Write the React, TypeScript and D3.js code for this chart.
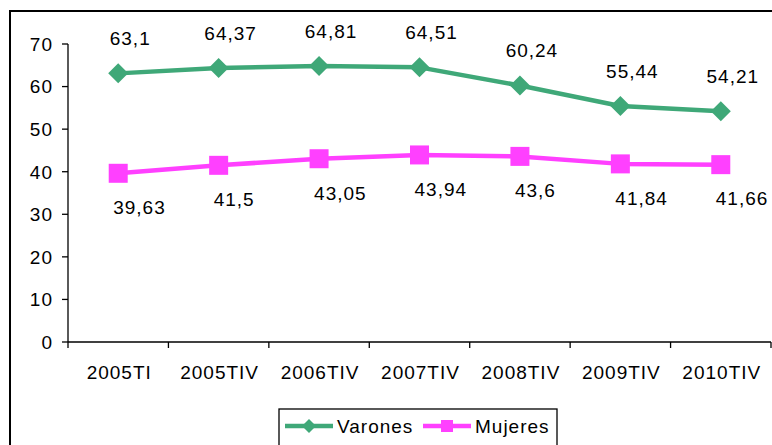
import React from "react";
import * as d3 from "d3";

const categories = ["2005TI", "2005TIV", "2006TIV", "2007TIV", "2008TIV", "2009TIV", "2010TIV"];
const varones = [63.1, 64.37, 64.81, 64.51, 60.24, 55.44, 54.21];
const mujeres = [39.63, 41.5, 43.05, 43.94, 43.6, 41.84, 41.66];
const varonesLabels = ["63,1", "64,37", "64,81", "64,51", "60,24", "55,44", "54,21"];
const mujeresLabels = ["39,63", "41,5", "43,05", "43,94", "43,6", "41,84", "41,66"];
const yTicks = [0, 10, 20, 30, 40, 50, 60, 70];

const W = 772;
const H = 445;
const GREEN = "#3fa878";
const MAGENTA = "#ff40ff";
const FONT = "'Liberation Sans', Arial, sans-serif";

export default function App() {
  const x = d3.scaleBand<string>().domain(categories).range([68, 771]).padding(0);
  const y = d3.scaleLinear().domain([0, 70]).range([342, 44]);
  const cx = (c: string) => (x(c) as number) + x.bandwidth() / 2;

  const line = d3
    .line<number>()
    .x((_, i) => cx(categories[i]))
    .y((d) => y(d));

  const diamond = (px: number, py: number, r: number) =>
    `M${px},${py - r}L${px + r},${py}L${px},${py + r}L${px - r},${py}Z`;

  const boundaries = categories.map((c) => x(c) as number).concat([x.range()[1]]);

  return (
    <svg
      width={W}
      height={H}
      style={{ position: "absolute", left: 0, top: 0, background: "#fff" }}
      fontFamily={FONT}
    >
      <rect x={0} y={0} width={W} height={H} fill="#fff" />
      {/* outer frame */}
      <rect x={10} y={11} width={W + 20} height={H + 20} fill="none" stroke="#000" strokeWidth={2} />

      {/* y axis */}
      <line x1={68} x2={68} y1={y(70)} y2={y(0)} stroke="#000" strokeWidth={1.3} />
      {yTicks.map((t) => (
        <g key={t}>
          <line x1={62} x2={68} y1={y(t)} y2={y(t)} stroke="#000" strokeWidth={1.3} />
          <text
            x={53}
            y={y(t)}
            dy="0.36em"
            textAnchor="end"
            fontSize={19}
            letterSpacing={1}
            fill="#000"
          >
            {t}
          </text>
        </g>
      ))}

      {/* x axis */}
      <line x1={68} x2={771} y1={y(0)} y2={y(0)} stroke="#000" strokeWidth={1.3} />
      {boundaries.map((b, i) => (
        <line key={i} x1={b} x2={b} y1={y(0)} y2={y(0) + 6} stroke="#000" strokeWidth={1.3} />
      ))}
      {categories.map((c) => (
        <text
          key={c}
          x={cx(c) + 1}
          y={379}
          textAnchor="middle"
          fontSize={19}
          letterSpacing={1}
          fill="#000"
        >
          {c}
        </text>
      ))}

      {/* series lines */}
      <path d={line(varones) || ""} fill="none" stroke={GREEN} strokeWidth={4.5} strokeLinejoin="round" />
      <path d={line(mujeres) || ""} fill="none" stroke={MAGENTA} strokeWidth={4.5} strokeLinejoin="round" />

      {/* markers */}
      {varones.map((v, i) => (
        <path key={"dv" + i} d={diamond(cx(categories[i]), y(v), 10)} fill={GREEN} />
      ))}
      {mujeres.map((v, i) => (
        <rect
          key={"sm" + i}
          x={cx(categories[i]) - 9.5}
          y={y(v) - 9.5}
          width={19}
          height={19}
          fill={MAGENTA}
        />
      ))}

      {/* data labels */}
      {varones.map((v, i) => (
        <text
          key={"lv" + i}
          x={cx(categories[i]) + 12}
          y={y(v) - 35}
          dy="0.36em"
          textAnchor="middle"
          fontSize={19}
          letterSpacing={1}
          fill="#000"
        >
          {varonesLabels[i]}
        </text>
      ))}
      {mujeres.map((v, i) => (
        <text
          key={"lm" + i}
          x={cx(categories[i]) - 5}
          y={y(v) + 34}
          dy="0.36em"
          textAnchor="start"
          fontSize={19}
          letterSpacing={1}
          fill="#000"
        >
          {mujeresLabels[i]}
        </text>
      ))}

      {/* legend */}
      <rect x={279} y={409} width={278} height={50} fill="#fff" stroke="#000" strokeWidth={1.3} />
      <line x1={285} x2={333} y1={426} y2={426} stroke={GREEN} strokeWidth={4.5} />
      <path d={diamond(309, 426, 7)} fill={GREEN} />
      <text x={337} y={433} fontSize={19} letterSpacing={1} fill="#000">
        Varones
      </text>
      <line x1={423} x2={471} y1={426} y2={426} stroke={MAGENTA} strokeWidth={4.5} />
      <rect x={441} y={420} width={12} height={12} fill={MAGENTA} />
      <text x={475} y={433} fontSize={19} letterSpacing={1} fill="#000">
        Mujeres
      </text>
    </svg>
  );
}
